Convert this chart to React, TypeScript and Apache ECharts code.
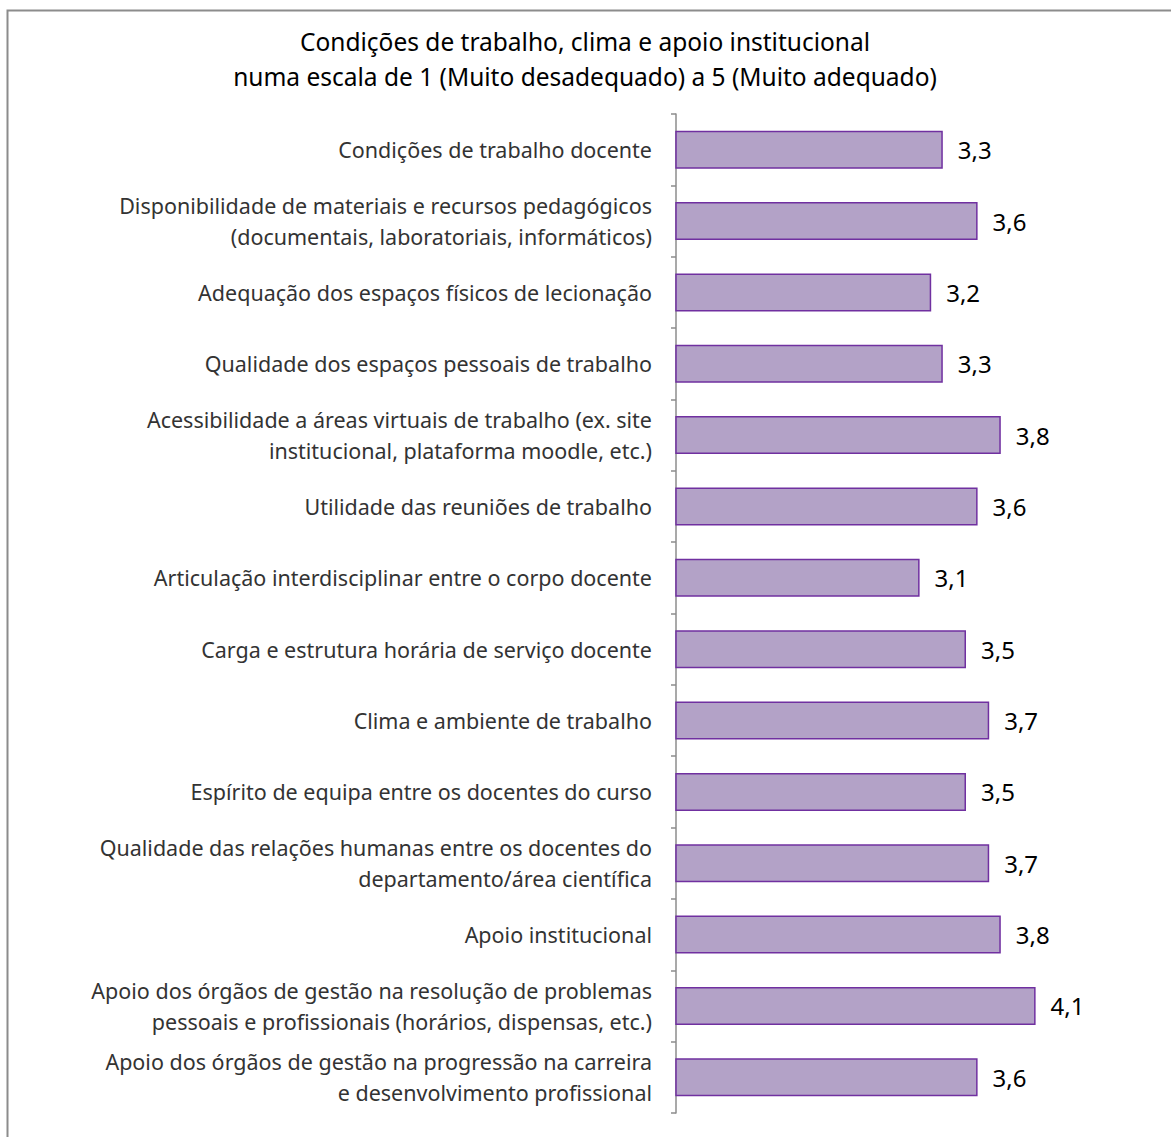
import React, { useEffect, useRef } from "react";
import * as echarts from "echarts";

const titleLines = [
  "Condições de trabalho, clima e apoio institucional",
  "numa escala de 1 (Muito desadequado) a 5 (Muito adequado)",
];

const categories = [
  "Condições de trabalho docente",
  "Disponibilidade de materiais e recursos pedagógicos\n(documentais, laboratoriais, informáticos)",
  "Adequação dos espaços físicos de lecionação",
  "Qualidade dos espaços pessoais de trabalho",
  "Acessibilidade a áreas virtuais de trabalho (ex. site\ninstitucional, plataforma moodle, etc.)",
  "Utilidade das reuniões de trabalho",
  "Articulação interdisciplinar entre o corpo docente",
  "Carga e estrutura horária de serviço docente",
  "Clima e ambiente de trabalho",
  "Espírito de equipa entre os docentes do curso",
  "Qualidade das relações humanas entre os docentes do\ndepartamento/área científica",
  "Apoio institucional",
  "Apoio dos órgãos de gestão na resolução de problemas\npessoais e profissionais (horários, dispensas, etc.)",
  "Apoio dos órgãos de gestão na progressão na carreira\ne desenvolvimento profissional",
];

const values = [3.3, 3.6, 3.2, 3.3, 3.8, 3.6, 3.1, 3.5, 3.7, 3.5, 3.7, 3.8, 4.1, 3.6];

export default function App() {
  const ref = useRef<HTMLDivElement>(null);
  useEffect(() => {
    document.body.style.margin = "0";
    if (!ref.current) return;
    const chart = echarts.init(ref.current, undefined, { renderer: "svg" });
    chart.setOption({
      animation: false,
      backgroundColor: "#ffffff",
      title: {
        text: titleLines.join("\n"),
        left: 580,
        textAlign: "center",
        top: 19,
        textStyle: {
          fontFamily: "Noto Sans",
          fontSize: 24.5,
          fontWeight: "normal",
          color: "#000000",
          lineHeight: 35,
        },
      },
      graphic: [
        {
          type: "rect",
          shape: { x: 7.5, y: 10.5, width: 1200, height: 1200 },
          style: { fill: "none", stroke: "#8c8c8c", lineWidth: 2 },
          silent: true,
        },
      ],
      grid: { left: 676, right: 31, top: 114, bottom: 24, containLabel: false },
      xAxis: {
        type: "value",
        min: 1,
        max: 5,
        show: false,
      },
      yAxis: {
        type: "category",
        data: categories,
        inverse: true,
        axisLine: { show: true, lineStyle: { color: "#8c8c8c", width: 1.5 } },
        axisTick: { show: true, length: 5, lineStyle: { color: "#8c8c8c", width: 1.5 } },
        axisLabel: {
          margin: 24,
          fontFamily: "Noto Sans",
          fontSize: 21.5,
          color: "#333333",
          lineHeight: 31,
          align: "right",
        },
      },
      series: [
        {
          type: "bar",
          data: values,
          barWidth: 38,
          itemStyle: { color: "#B3A2C7", borderColor: "#7030A0", borderWidth: 1.5 },
          label: {
            show: true,
            position: "right",
            distance: 15,
            fontFamily: "Noto Sans",
            fontSize: 24,
            color: "#000000",
            formatter: (p: any) => String(p.value.toFixed(1)).replace(".", ","),
          },
        },
      ],
    });
    return () => chart.dispose();
  }, []);
  return <div ref={ref} style={{ width: 1171, height: 1137 }} />;
}
